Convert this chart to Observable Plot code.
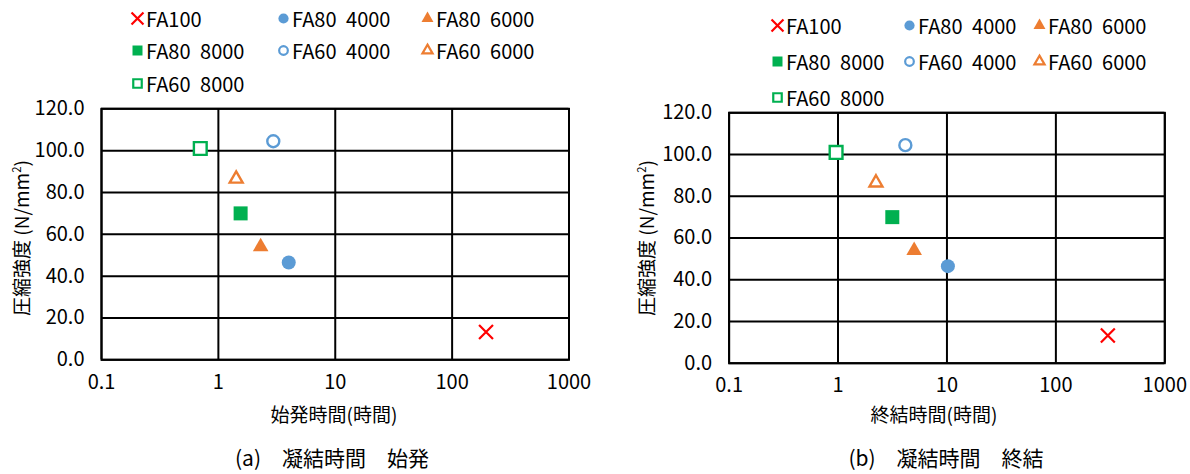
<!DOCTYPE html>
<html>
<head>
<meta charset="utf-8">
<script src="https://cdn.jsdelivr.net/npm/d3@7"></script>
<script src="https://cdn.jsdelivr.net/npm/@observablehq/plot@0.6"></script>
<style>
  html, body { margin: 0; padding: 0; background: #fff; }
  #wrap { position: relative; width: 1190px; height: 474px; overflow: hidden; font-family: "Noto Sans CJK JP", "Noto Sans", sans-serif; color: #000; }
  .chart { position: absolute; top: 0; }
  .legend { position: absolute; display: grid; }
  .item { display: flex; align-items: center; font-size: 20px; white-space: pre; word-spacing: 5px; }
  .item svg { margin-right: 2px; overflow: visible; }
  .lbl { position: absolute; white-space: pre; transform: translate(-50%, -50%); line-height: 1; }
  .ylab { position: absolute; white-space: pre; transform: translate(-50%, -50%) rotate(-90deg); line-height: 1; font-size: 19px; }
</style>
</head>
<body>
<div id="wrap"></div>
<script>
// ---- data ----
const series   = ["FA100", "FA80 4000", "FA80 6000", "FA80 8000", "FA60 4000", "FA60 6000", "FA60 8000"];
const strength = [13.3, 46.5, 54.0, 70.0, 104.5, 86.5, 101.0];      // 圧縮強度 (N/mm2)
const initialTime = [195, 4.0, 2.3, 1.55, 2.95, 1.42, 0.70];        // 始発時間 (時間)
const finalTime   = [300, 10.2, 5.0, 3.15, 4.15, 2.23, 0.96];       // 終結時間 (時間)
const colors  = ["#FF0000", "#5B9BD5", "#ED7D31", "#00B050", "#5B9BD5", "#ED7D31", "#00B050"];
const symbols = ["times", "circle", "triangle", "square", "circle", "triangle", "square"];
const filled  = [false, true, true, true, false, false, false];
const radii   = [6.4, 7, 5.8, 7.9, 6, 4.8, 7.2];
const xTicks = [0.1, 1, 10, 100, 1000];
const yTicks = [0, 20, 40, 60, 80, 100, 120];

const wrap = document.getElementById("wrap");

function makeChart(times, m) {
  const rows = series.map((s, i) => ({series: s, x: times[i], y: strength[i], i}));
  const marks = [
    Plot.gridX(xTicks, {stroke: "#000", strokeOpacity: 1, strokeWidth: 2}),
    Plot.gridY(yTicks, {stroke: "#000", strokeOpacity: 1, strokeWidth: 2}),
    Plot.frame({stroke: "#000", strokeWidth: 2}),
    Plot.axisY({ticks: yTicks, tickFormat: d => d.toFixed(1), tickSize: 0, tickPadding: 17, fontSize: 20, label: null}),
    Plot.axisX({ticks: xTicks, tickFormat: d => String(d), tickSize: 0, tickPadding: 15, fontSize: 20, label: null})
  ];
  rows.forEach(r => {
    const i = r.i;
    const isStroke = symbols[i] === "times" || !filled[i];
    marks.push(Plot.dot([r], {
      x: "x", y: "y", symbol: () => symbols[i], r: radii[i],
      fill: filled[i] ? colors[i] : (symbols[i] === "times" ? "none" : "white"),
      stroke: isStroke ? colors[i] : "none",
      strokeWidth: symbols[i] === "times" ? 2.2 : 2.4
    }));
  });
  return Plot.plot({
    width: 595, height: 474,
    marginLeft: m.left, marginRight: m.right, marginTop: m.top, marginBottom: m.bottom,
    x: {type: "log", domain: [0.1, 1000]},
    y: {domain: [0, 120]},
    symbol: {domain: ["times", "circle", "triangle", "square"], range: ["times", "circle", "triangle", "square"]},
    style: {fontFamily: "'Noto Sans CJK JP', 'Noto Sans', sans-serif", color: "#000", background: "transparent", overflow: "visible"},
    marks
  });
}

const left = makeChart(initialTime, {left: 101, right: 26.5, top: 108.3, bottom: 474 - 359.3});
left.classList.add("chart"); left.style.left = "0px";
wrap.appendChild(left);
const right = makeChart(finalTime, {left: 133.6, right: 25.7, top: 112.3, bottom: 474 - 362.7});
right.classList.add("chart"); right.style.left = "595px";
wrap.appendChild(right);

function markerSVG(i, size) {
  const sym = {times: d3.symbolTimes, circle: d3.symbolCircle, triangle: d3.symbolTriangle, square: d3.symbolSquare}[symbols[i]];
  const base = {times: 95, circle: 82, triangle: 62, square: 100}[symbols[i]];
  const area = base * (filled[i] || symbols[i] === "times" ? 1 : 0.72);
  const path = d3.symbol(sym, area)();
  const isStroke = symbols[i] === "times" || !filled[i];
  return `<svg width="${size}" height="${size}" viewBox="${-size/2} ${-size/2} ${size} ${size}"><path d="${path}" fill="${filled[i] ? colors[i] : "none"}" stroke="${isStroke ? colors[i] : "none"}" stroke-width="2.2"/></svg>`;
}

function makeLegend(x, y, colW, rowH) {
  const lg = document.createElement("div");
  lg.className = "legend";
  lg.style.left = x + "px"; lg.style.top = y + "px";
  lg.style.gridTemplateColumns = colW.map(w => w + "px").join(" ");
  lg.style.gridAutoRows = rowH + "px";
  lg.innerHTML = series.map((s, i) => `<div class="item">${markerSVG(i, 13)}${s}</div>`).join("");
  wrap.appendChild(lg);
}
makeLegend(131, 2, [146, 144, 150], 32.5);
makeLegend(771, 7, [132, 130, 150], 36);

function label(text, x, y, size) {
  const d = document.createElement("div");
  d.className = "lbl"; d.textContent = text;
  d.style.left = x + "px"; d.style.top = y + "px"; d.style.fontSize = size + "px";
  wrap.appendChild(d);
}
function ylabel(text, x, y) {
  const d = document.createElement("div");
  d.className = "ylab"; d.innerHTML = text;
  d.style.left = x + "px"; d.style.top = y + "px";
  wrap.appendChild(d);
}
label("始発時間(時間)", 334, 413, 19);
label("終結時間(時間)", 934, 413, 19);
label("(a)　凝結時間　始発", 332, 457, 21);
label("(b)　凝結時間　終結", 946, 457, 21);
ylabel("圧縮強度 (N/mm<sup style='font-size:0.6em;line-height:0'>2</sup>)", 20, 238);
ylabel("圧縮強度 (N/mm<sup style='font-size:0.6em;line-height:0'>2</sup>)", 645, 238);
</script>
</body>
</html>
